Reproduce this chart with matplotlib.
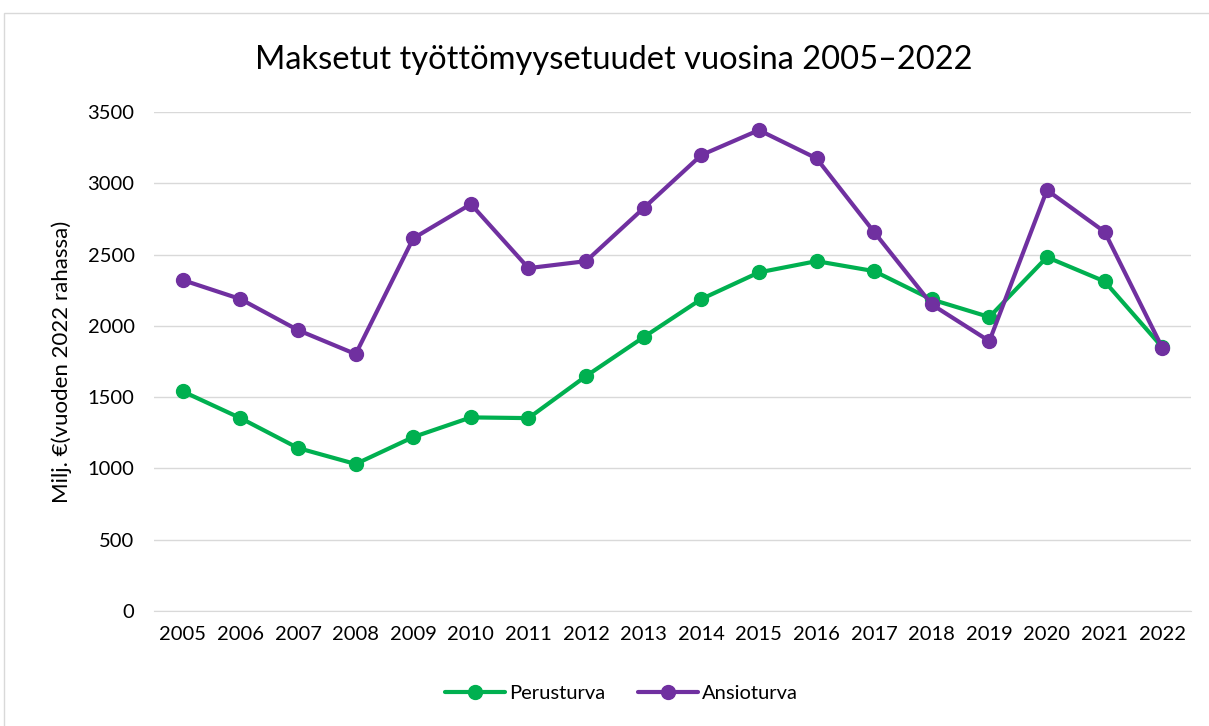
import matplotlib.pyplot as plt
from matplotlib.patches import Rectangle

plt.rcParams["font.family"] = ["Lato", "DejaVu Sans"]

years = [str(y) for y in range(2005, 2023)]
perusturva = [1540, 1353, 1143, 1031, 1220, 1358, 1353, 1648, 1921, 2188,
              2375, 2454, 2384, 2185, 2062, 2482, 2312, 1851]
ansioturva = [2321, 2188, 1970, 1802, 2614, 2854, 2405, 2454, 2826, 3198,
              3373, 3175, 2658, 2150, 1893, 2952, 2660, 1848]

GREEN = "#00B050"
PURPLE = "#7030A0"

fig = plt.figure(figsize=(12.09, 7.26), dpi=100)
ax = fig.add_axes([0.1274, 0.1584, 0.8577, 0.6873])

# outer chart border
fig.patches.append(Rectangle((4 / 1209, -0.01), 1.2, 1 - 13 / 726 + 0.01,
                             transform=fig.transFigure, fill=False,
                             edgecolor="#D9D9D9", linewidth=1))

x = range(len(years))
ax.plot(x, perusturva, color=GREEN, lw=3, marker="o", ms=10, label="Perusturva",
        solid_capstyle="round")
ax.plot(x, ansioturva, color=PURPLE, lw=3, marker="o", ms=10, label="Ansioturva",
        solid_capstyle="round")

ax.set_xlim(-0.5, len(years) - 0.5)
ax.set_ylim(0, 3500)
ax.set_yticks(range(0, 3501, 500))
ax.set_xticks(list(x))
ax.set_xticklabels(years)
ax.tick_params(length=0, labelsize=14.5, colors="#000000")
ax.tick_params(axis="x", pad=11)
ax.tick_params(axis="y", pad=14)
ax.grid(axis="y", color="#D9D9D9", lw=1)
ax.set_axisbelow(True)
for s in ["top", "right", "left"]:
    ax.spines[s].set_visible(False)
ax.spines["bottom"].set_color("#D9D9D9")

ax.set_ylabel("Milj. €(vuoden 2022 rahassa)", fontsize=16, labelpad=11)
fig.text(0.508, 0.918, "Maksetut työttömyysetuudet vuosina 2005–2022",
         ha="center", va="center", fontsize=23.5)

fig.legend(loc="center", bbox_to_anchor=(0.514, 0.045), ncol=2, frameon=False,
           fontsize=14.5, handlelength=3.0, columnspacing=1.6, handletextpad=0.2)

fig.savefig("out.png", dpi=100)
